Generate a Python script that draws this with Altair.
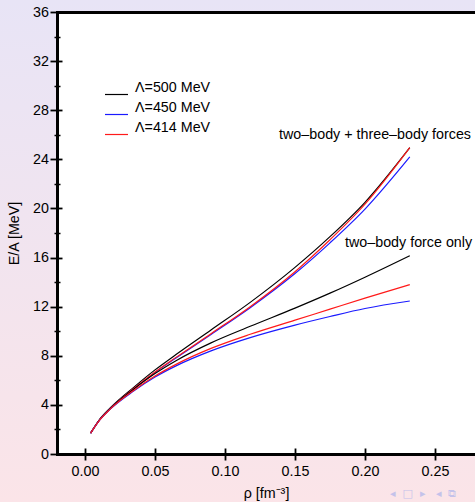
import altair as alt
import pandas as pd

# ---- data ----
rho = [0.004, 0.01, 0.018, 0.035, 0.05, 0.065, 0.09, 0.118, 0.15, 0.175, 0.2, 0.232]

e500_3bf = [1.7, 2.75, 3.75, 5.45, 6.85, 8.1, 10.1, 12.35, 15.2, 17.7, 20.5, 24.95]
e450_3bf = [1.7, 2.72, 3.7, 5.33, 6.64, 7.82, 9.74, 11.92, 14.7, 17.2, 19.95, 24.2]
e414_3bf = [1.7, 2.72, 3.7, 5.35, 6.68, 7.87, 9.8, 12.0, 14.85, 17.45, 20.35, 24.95]

e500_2bf = [1.7, 2.72, 3.7, 5.3, 6.55, 7.6, 9.05, 10.4, 11.88, 13.1, 14.4, 16.15]
e450_2bf = [1.7, 2.7, 3.65, 5.15, 6.27, 7.18, 8.4, 9.48, 10.5, 11.2, 11.85, 12.46]
e414_2bf = [1.7, 2.7, 3.66, 5.2, 6.35, 7.3, 8.6, 9.75, 10.9, 11.8, 12.7, 13.8]

lambdas = ["Λ=500 MeV", "Λ=450 MeV", "Λ=414 MeV"]
colors = ["#000000", "#1a1aff", "#ff1a1a"]

x_ticks = [0.0, 0.05, 0.10, 0.15, 0.20, 0.25]
y_major = [0, 4, 8, 12, 16, 20, 24, 28, 32, 36]
y_minor = [2, 6, 10, 14, 18, 22, 26, 30, 34]

ann_text = ["two–body + three–body forces", "two–body force only"]
ann_rho = [0.1386, 0.1857]
ann_e = [25.98, 17.16]

NB = "\u00a0"
nav_icons = "◂" + NB * 2 + "□" + NB * 2 + "▸" + NB * 3 + "◂" + NB * 2 + "⧉"

series = [
    (lambdas[0], "3bf", e500_3bf), (lambdas[1], "3bf", e450_3bf), (lambdas[2], "3bf", e414_3bf),
    (lambdas[0], "2bf", e500_2bf), (lambdas[1], "2bf", e450_2bf), (lambdas[2], "2bf", e414_2bf),
]
rows = []
for lam, force, vals in series:
    for r, v in zip(rho, vals):
        rows.append({"rho": r, "E": v, "lam": lam, "force": force + lam})
df = pd.DataFrame(rows)

FONT = "Liberation Sans"
FS = 14.3
W, H = 418, 442
PAD = {"left": 57, "top": 12, "right": 0, "bottom": 48}

xscale = alt.Scale(domain=[-0.02, 0.27857], nice=False, zero=False)
yscale = alt.Scale(domain=[0, 36], nice=False, zero=False)

one = pd.DataFrame({"a": [0]})

bg = alt.Chart(one).mark_rect(
    color=alt.LinearGradient(
        gradient="linear", x1=0, y1=0, x2=0, y2=1,
        stops=[alt.GradientStop(offset=0, color="#e8e4f6"),
               alt.GradientStop(offset=1, color="#fbe4e8")],
    )
).encode(x=alt.value(-PAD["left"]), x2=alt.value(W), y=alt.value(-PAD["top"]), y2=alt.value(H + PAD["bottom"]))

panel = alt.Chart(one).mark_rect(color="white").encode(
    x=alt.value(0), x2=alt.value(W), y=alt.value(0), y2=alt.value(H)
)

nav = alt.Chart(pd.DataFrame({"t": [nav_icons]})).mark_text(
    align="left", baseline="middle", font="DejaVu Sans", fontSize=11, color="#c4c2ea"
).encode(x=alt.value(333), y=alt.value(H + 40), text="t:N")

lines = alt.Chart(df).mark_line(strokeWidth=1.2, interpolate="monotone").encode(
    x=alt.X("rho:Q", scale=xscale,
            axis=alt.Axis(orient="bottom", values=x_ticks, format=".2f", grid=False, zindex=1,
                          domainWidth=3, domainColor="black", domainCap="square",
                          tickSize=6, tickWidth=1.8, tickColor="black",
                          labelFont=FONT, labelFontSize=FS, labelColor="black", labelPadding=4,
                          title="ρ [fm⁻³]", titleFont=FONT, titleFontSize=FS, titleFontWeight="normal",
                          titleColor="black", titleY=43, titleBaseline="alphabetic")),
    y=alt.Y("E:Q", scale=yscale,
            axis=alt.Axis(orient="left", values=y_major, grid=False, zindex=1,
                          domainWidth=3, domainColor="black", domainCap="square",
                          tickSize=7, tickWidth=1.8, tickColor="black",
                          labelFont=FONT, labelFontSize=FS, labelColor="black", labelPadding=1.5,
                          title="E/A [MeV]", titleFont=FONT, titleFontSize=FS, titleFontWeight="normal",
                          titleColor="black", titleX=-39, titleBaseline="alphabetic")),
    color=alt.Color("lam:N", scale=alt.Scale(domain=lambdas, range=colors),
                    legend=alt.Legend(orient="none", legendX=47, legendY=70, title=None,
                                      symbolType="stroke", symbolSize=529, symbolStrokeWidth=1.2,
                                      labelFont=FONT, labelFontSize=FS, labelColor="black",
                                      labelOffset=6, rowPadding=3, padding=0, labelBaseline="bottom",
                                      zindex=1)),
    detail="force:N",
)

t1 = alt.Chart(pd.DataFrame({"rho": [ann_rho[0]], "E": [ann_e[0]], "t": [ann_text[0]]})).mark_text(
    align="left", baseline="middle", font=FONT, fontSize=FS, color="black"
).encode(
    x=alt.X("rho:Q", scale=xscale,
            axis=alt.Axis(orient="top", labels=False, ticks=False, grid=False, title=None, zindex=1,
                          domainWidth=3, domainColor="black", domainCap="square")),
    y=alt.Y("E:Q", scale=yscale,
            axis=alt.Axis(orient="left", offset=-5, values=y_major, tickSize=5, tickWidth=1.8, zindex=1,
                          tickColor="black", labels=False, domain=False, grid=False, title=None)),
    text="t:N",
)

t2 = alt.Chart(pd.DataFrame({"rho": [ann_rho[1]], "E": [ann_e[1]], "t": [ann_text[1]]})).mark_text(
    align="left", baseline="middle", font=FONT, fontSize=FS, color="black"
).encode(
    x=alt.X("rho:Q", scale=xscale,
            axis=alt.Axis(orient="bottom", offset=-6, values=x_ticks, tickSize=6, tickWidth=1.8, zindex=1,
                          tickColor="black", labels=False, domain=False, grid=False, title=None)),
    y=alt.Y("E:Q", scale=yscale,
            axis=alt.Axis(orient="left", offset=-3, values=y_minor, tickSize=6, tickWidth=1.5, zindex=1,
                          tickColor="black", labels=False, domain=False, grid=False, title=None)),
    text="t:N",
)

chart = alt.layer(bg, panel, nav, lines, t1, t2).resolve_axis(
    x="independent", y="independent"
).properties(
    width=W, height=H, padding=PAD, autosize=alt.AutoSizeParams(type="none"),
    background="#f2e4ef",
).configure_view(stroke="transparent")

chart.save("out.html", embed_options={"renderer": "svg", "actions": False})
